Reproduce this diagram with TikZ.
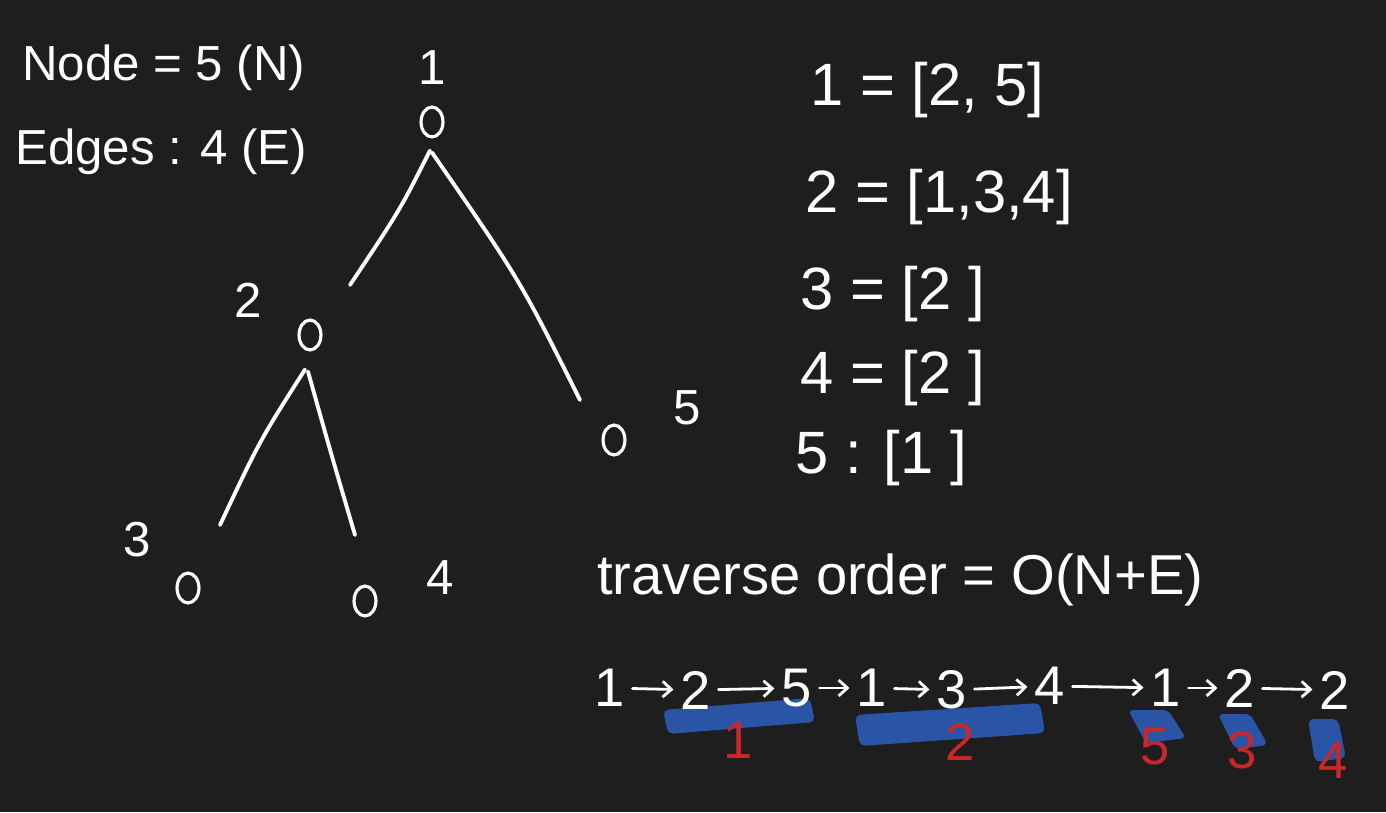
\documentclass[tikz,border=0pt]{standalone}
\usepackage{fontspec}
\setmainfont{Liberation Sans}
\usetikzlibrary{arrows.meta,shapes.geometric}
\definecolor{bg}{HTML}{1E1E1E}
\definecolor{hl}{HTML}{2D5FC0}
\definecolor{rd}{HTML}{C8282A}
\newlength{\unitpx}
\setlength{\unitpx}{0.5669pt}
\tikzset{
  txt/.style={text=white,inner sep=0pt,font=\fontsize{28}{30}\selectfont},
  big/.style={text=white,inner sep=0pt,font=\fontsize{32}{34}\selectfont},
  vert/.style={draw=white,line width=1.8pt,ellipse,minimum width=22\unitpx,minimum height=30\unitpx,inner sep=0pt},
  treeline/.style={draw=white,line width=2.2pt,line cap=round},
  chainnum/.style={text=white,inner sep=1pt,font=\fontsize{31}{33}\selectfont},
  chainarrow/.style={draw=white,line width=1.6pt,line cap=round,-{Straight Barb[length=5pt,width=9pt]},shorten <=3pt,shorten >=3pt},
  hlmark/.style={fill=hl,opacity=0.85,rounded corners=3pt},
  rednum/.style={text=rd,inner sep=0pt,font=\fontsize{30}{32}\selectfont}
}
\begin{document}
\begin{tikzpicture}[x=0.02cm,y=-0.02cm]
\fill[bg] (0,0) rectangle (1386,812);
\useasboundingbox (0,0) rectangle (1386,812);
% header text
\node[txt,anchor=west] (nodecount) at (22,68) {Node = 5 (N)};
\node[txt,anchor=west] (edgecount) at (15,152) {Edges : 4 (E)};
% tree
\node[vert] (v1) at (432,122) {};
\node[vert] (v2) at (310,335) {};
\node[vert] (v5) at (614,440) {};
\node[vert] (v3) at (188,588) {};
\node[vert] (v4) at (365,601) {};
\node[txt] (l1) at (432,68) {1};
\node[txt] (l2) at (248,300) {2};
\node[txt] (l5) at (687,408) {5};
\node[txt] (l3) at (137,540) {3};
\node[txt] (l4) at (440,578) {4};
\draw[treeline] (v1.south) ++(-2,12) coordinate (a1) (a1) .. controls (400,210) .. (350,285) coordinate (b1);
\draw[treeline] (v1.south) ++(0,14) coordinate (a2) (a2) .. controls (520,280) .. (580,400) coordinate (b2);
\draw[treeline] (v2.south) ++(-5,18) coordinate (a3) (a3) .. controls (260,440) .. (220,525) coordinate (b3);
\draw[treeline] (v2.south) ++(-2,20) coordinate (a4) (a4) .. controls (330,450) .. (355,535) coordinate (b4);
% adjacency list
\node[txt,anchor=west,font=\fontsize{34}{36}\selectfont] (adj1) at (810,90) {1 = [2, 5]};
\node[txt,anchor=west,font=\fontsize{34}{36}\selectfont] (adj2) at (805,197) {2 = [1,3,4]};
\node[txt,anchor=west,font=\fontsize{34}{36}\selectfont] (adj3) at (800,294) {3 = [2 ]};
\node[txt,anchor=west,font=\fontsize{34}{36}\selectfont] (adj4) at (800,378) {4 = [2 ]};
\node[txt,anchor=west,font=\fontsize{34}{36}\selectfont] (adj5) at (795,458) {5 : [1 ]};
% complexity
\node[big,anchor=west] (trav) at (597,580) {traverse order = O(N+E)};
% highlight marks
\fill[hlmark] (663,710) -- (810,698) -- (815,722) -- (668,734) -- cycle;
\fill[hlmark] (855,715) -- (1040,703) -- (1045,733) -- (860,746) -- cycle;
\fill[hlmark] (1128,710) -- (1168,710) -- (1186,738) -- (1146,743) -- cycle;
\fill[hlmark] (1218,714) -- (1250,714) -- (1268,745) -- (1235,749) -- cycle;
\fill[hlmark] (1308,719) -- (1338,719) -- (1346,758) -- (1315,762) -- cycle;
% chain
\node[chainnum] (c1) at (610,688) {1};
\node[chainnum] (c2) at (696,690) {2};
\node[chainnum] (c3) at (797,688) {5};
\node[chainnum] (c4) at (872,688) {1};
\node[chainnum] (c5) at (952,690) {3};
\node[chainnum] (c6) at (1050,686) {4};
\node[chainnum] (c7) at (1166,688) {1};
\node[chainnum] (c8) at (1240,688) {2};
\node[chainnum] (c9) at (1335,690) {2};
\draw[chainarrow] (c1) -- (c2);
\draw[chainarrow] (c2) -- (c3);
\draw[chainarrow] (c3) -- (c4);
\draw[chainarrow] (c4) -- (c5);
\draw[chainarrow] (c5) -- (c6);
\draw[chainarrow] (c6) -- (c7);
\draw[chainarrow] (c7) -- (c8);
\draw[chainarrow] (c8) -- (c9);
% red numbers
\node[rednum] (r1) at (738,740) {1};
\node[rednum] (r2) at (960,742) {2};
\node[rednum] (r5) at (1155,747) {5};
\node[rednum] (r3) at (1242,750) {3};
\node[rednum] (r4) at (1333,760) {4};
\end{tikzpicture}
\end{document}
